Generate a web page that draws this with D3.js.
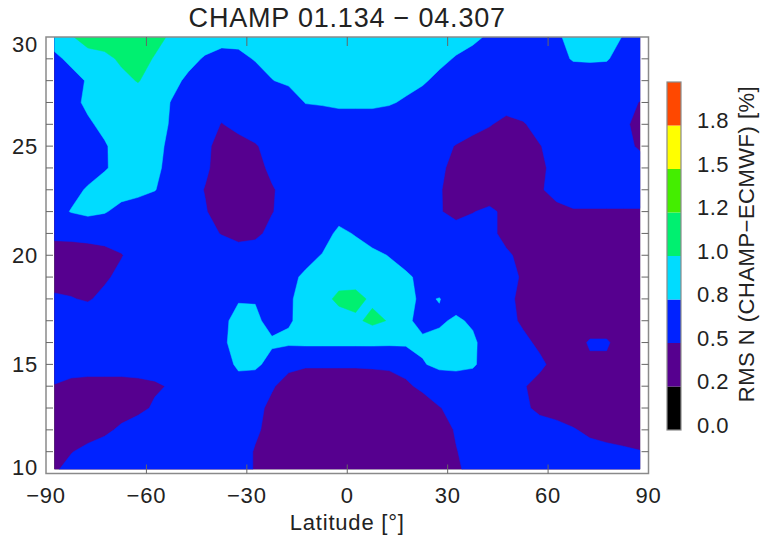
<!DOCTYPE html>
<html>
<head>
<meta charset="utf-8">
<title>CHAMP RMS N</title>
<script src="https://d3js.org/d3.v7.min.js"></script>
<style>
  body { margin: 0; background: #fff; }
  text { font-family: "Liberation Sans", Arial, sans-serif; fill: #222; }
</style>
</head>
<body>
<div id="chart"></div>
<script>
// grid columns (latitude, deg) and rows (altitude, km), top row first
const lats = [-87.5, -82.5, -77.5, -72.5, -67.5, -62.5, -57.5, -52.5, -47.5, -42.5, -37.5, -32.5,
              -27.5, -22.5, -17.5, -12.5, -7.5, -2.5, 2.5, 7.5, 12.5, 17.5, 22.5, 27.5,
              32.5, 37.5, 42.5, 47.5, 52.5, 57.5, 62.5, 67.5, 72.5, 77.5, 82.5, 87.5];
const alts = [30, 29, 28, 27, 26, 25, 24, 23, 22, 21, 20, 19, 18, 17, 16, 15, 14, 13, 12, 11, 10];

// RMS N (CHAMP-ECMWF) [%], one row per altitude
const rms30 = [0.90,0.98,1.10,1.10,1.10,1.10,1.08,0.96,0.90,0.90,0.90,0.90,0.90,0.90,0.90,0.90,0.90,0.90,0.90,0.90,0.90,0.90,0.90,0.90,0.90,0.86,0.76,0.65,0.65,0.65,0.76,0.88,0.90,0.88,0.79,0.70];
const rms29 = [0.75,0.85,0.90,0.95,1.03,1.10,0.98,0.90,0.86,0.78,0.70,0.72,0.82,0.90,0.90,0.90,0.90,0.90,0.90,0.90,0.90,0.90,0.90,0.86,0.78,0.70,0.65,0.65,0.65,0.65,0.72,0.82,0.83,0.82,0.70,0.65];
const rms28 = [0.65,0.72,0.82,0.90,0.95,1.01,0.92,0.86,0.76,0.65,0.62,0.62,0.65,0.79,0.86,0.90,0.90,0.90,0.90,0.90,0.90,0.90,0.83,0.74,0.65,0.65,0.65,0.65,0.65,0.65,0.65,0.65,0.65,0.65,0.65,0.65];
const rms27 = [0.65,0.74,0.84,0.90,0.90,0.90,0.90,0.79,0.70,0.62,0.62,0.62,0.62,0.62,0.62,0.81,0.83,0.87,0.87,0.87,0.83,0.76,0.70,0.62,0.62,0.62,0.62,0.62,0.62,0.62,0.62,0.62,0.62,0.62,0.58,0.49];
const rms26 = [0.65,0.70,0.77,0.85,0.90,0.90,0.88,0.78,0.65,0.60,0.49,0.58,0.62,0.62,0.62,0.62,0.62,0.62,0.62,0.62,0.62,0.62,0.62,0.62,0.62,0.62,0.52,0.42,0.48,0.58,0.62,0.62,0.62,0.62,0.56,0.40];
const rms25 = [0.65,0.68,0.72,0.78,0.88,0.90,0.85,0.76,0.62,0.56,0.40,0.40,0.48,0.58,0.62,0.62,0.62,0.62,0.62,0.62,0.62,0.62,0.62,0.56,0.49,0.38,0.35,0.35,0.40,0.49,0.58,0.62,0.62,0.62,0.56,0.47];
const rms24 = [0.65,0.68,0.72,0.78,0.87,0.90,0.84,0.74,0.62,0.54,0.40,0.35,0.42,0.55,0.62,0.62,0.62,0.62,0.62,0.62,0.62,0.62,0.62,0.55,0.42,0.35,0.35,0.35,0.35,0.46,0.56,0.62,0.62,0.62,0.62,0.60];
const rms23 = [0.65,0.74,0.82,0.90,0.90,0.88,0.81,0.68,0.60,0.49,0.38,0.35,0.40,0.48,0.58,0.62,0.62,0.62,0.62,0.62,0.62,0.62,0.62,0.52,0.40,0.35,0.35,0.35,0.35,0.48,0.56,0.62,0.62,0.62,0.62,0.62];
const rms22 = [0.72,0.81,0.86,0.82,0.72,0.65,0.62,0.62,0.62,0.52,0.38,0.35,0.40,0.49,0.58,0.62,0.62,0.68,0.62,0.62,0.62,0.62,0.62,0.52,0.42,0.49,0.55,0.44,0.38,0.40,0.45,0.48,0.48,0.48,0.48,0.48];
const rms21 = [0.56,0.57,0.58,0.58,0.60,0.62,0.62,0.62,0.62,0.56,0.49,0.42,0.45,0.56,0.65,0.65,0.68,0.86,0.78,0.68,0.62,0.62,0.62,0.62,0.62,0.62,0.55,0.44,0.38,0.38,0.38,0.38,0.38,0.38,0.38,0.38];
const rms20 = [0.38,0.38,0.40,0.44,0.49,0.58,0.62,0.62,0.62,0.62,0.62,0.62,0.62,0.62,0.62,0.72,0.81,0.90,0.92,0.86,0.79,0.70,0.62,0.62,0.62,0.62,0.58,0.53,0.45,0.35,0.35,0.35,0.35,0.35,0.35,0.35];
const rms19 = [0.42,0.42,0.44,0.47,0.55,0.62,0.62,0.62,0.62,0.62,0.62,0.62,0.62,0.62,0.74,0.84,0.90,0.93,0.93,0.92,0.90,0.84,0.74,0.62,0.62,0.62,0.62,0.56,0.48,0.35,0.35,0.35,0.35,0.35,0.35,0.35];
const rms18 = [0.53,0.51,0.48,0.55,0.62,0.62,0.62,0.62,0.62,0.62,0.62,0.78,0.78,0.68,0.77,0.88,0.94,1.04,1.05,0.97,0.90,0.86,0.76,0.81,0.68,0.62,0.60,0.55,0.45,0.35,0.35,0.35,0.35,0.35,0.35,0.35];
const rms17 = [0.62,0.62,0.62,0.62,0.62,0.62,0.62,0.62,0.62,0.62,0.74,0.88,0.86,0.70,0.78,0.86,0.90,0.92,0.97,1.04,0.99,0.85,0.72,0.76,0.84,0.76,0.62,0.58,0.46,0.35,0.35,0.35,0.35,0.35,0.35,0.35];
const rms16 = [0.62,0.62,0.62,0.62,0.62,0.62,0.62,0.62,0.62,0.62,0.77,0.86,0.86,0.84,0.84,0.85,0.85,0.85,0.85,0.85,0.84,0.84,0.85,0.88,0.90,0.85,0.66,0.62,0.56,0.45,0.38,0.38,0.53,0.53,0.38,0.38];
const rms15 = [0.60,0.60,0.60,0.60,0.60,0.60,0.60,0.60,0.60,0.60,0.60,0.88,0.86,0.70,0.55,0.53,0.53,0.53,0.53,0.54,0.56,0.60,0.78,0.86,0.88,0.84,0.66,0.62,0.60,0.55,0.42,0.35,0.45,0.45,0.35,0.35];
const rms14 = [0.49,0.44,0.42,0.42,0.42,0.44,0.47,0.52,0.62,0.62,0.62,0.62,0.62,0.52,0.42,0.35,0.35,0.35,0.35,0.35,0.35,0.45,0.56,0.62,0.62,0.62,0.62,0.62,0.52,0.42,0.35,0.35,0.35,0.35,0.35,0.35];
const rms13 = [0.35,0.36,0.38,0.38,0.40,0.44,0.53,0.60,0.62,0.62,0.62,0.62,0.56,0.45,0.35,0.35,0.35,0.35,0.35,0.35,0.35,0.35,0.35,0.49,0.56,0.62,0.62,0.62,0.55,0.44,0.35,0.35,0.35,0.35,0.35,0.35];
const rms12 = [0.35,0.38,0.40,0.45,0.54,0.62,0.62,0.62,0.62,0.62,0.62,0.62,0.54,0.42,0.35,0.35,0.35,0.35,0.35,0.35,0.35,0.35,0.35,0.40,0.52,0.62,0.62,0.62,0.62,0.62,0.62,0.52,0.44,0.40,0.38,0.35];
const rms11 = [0.42,0.49,0.56,0.62,0.62,0.62,0.62,0.62,0.62,0.62,0.62,0.62,0.48,0.40,0.35,0.35,0.35,0.35,0.35,0.35,0.35,0.35,0.35,0.40,0.49,0.58,0.62,0.62,0.62,0.62,0.62,0.62,0.60,0.57,0.54,0.51];
const rms10 = [0.49,0.58,0.62,0.62,0.62,0.62,0.62,0.62,0.62,0.62,0.62,0.62,0.48,0.42,0.35,0.35,0.35,0.35,0.35,0.35,0.35,0.35,0.35,0.40,0.46,0.56,0.62,0.62,0.62,0.62,0.62,0.62,0.62,0.62,0.62,0.60];
const rmsRows = [rms30, rms29, rms28, rms27, rms26, rms25, rms24, rms23, rms22, rms21, rms20,
                 rms19, rms18, rms17, rms16, rms15, rms14, rms13, rms12, rms11, rms10];

// contour levels and their fill colours
const levels = [0.0, 0.2, 0.5, 0.8, 1.0, 1.2, 1.5, 1.8];
const levelColors = ["#000000", "#56008f", "#0022ff", "#00dcff", "#00f070", "#44ee00", "#ffff00", "#ff4800"];
const levelLabels = ["0.0", "0.2", "0.5", "0.8", "1.0", "1.2", "1.5", "1.8"];
const latTicks = [-90, -60, -30, 0, 30, 60, 90];
const altTicks = [10, 15, 20, 25, 30];
const altMinor = d3.range(10, 31, 1);
const altLowest = 10.2;  // lowest altitude with data

const W = 760, H = 536;
const svg = d3.select("#chart").append("svg")
    .attr("width", W).attr("height", H);

const x = d3.scaleLinear().domain([-90, 90]).range([46, 648.5]);
const y = d3.scaleLinear().domain([10, 30]).range([473.5, 37]);

// grid coordinates -> data coordinates (sample i sits at i + 0.5)
const nx = lats.length, ny = alts.length;
const gx = d3.scaleLinear().domain([0.5, nx - 0.5]).range([lats[0], lats[nx - 1]]);
const gy = d3.scaleLinear().domain([0.5, ny - 0.5]).range([alts[0], alts[ny - 1]]);

const values = [].concat(...rmsRows);
const contours = d3.contours().size([nx, ny]).thresholds(levels)(values);

const proj = d3.geoTransform({
    point: function(px, py) { this.stream.point(x(gx(px)), y(gy(py))); }
});
const path = d3.geoPath(proj);

svg.append("clipPath").attr("id", "clip")
  .append("rect")
    .attr("x", x(lats[0])).attr("y", y(alts[0]))
    .attr("width", x(lats[nx - 1]) - x(lats[0]))
    .attr("height", y(altLowest) - y(alts[0]));

svg.append("g").attr("clip-path", "url(#clip)")
  .selectAll("path")
  .data(contours)
  .join("path")
    .attr("d", path)
    .attr("fill", (d, i) => levelColors[i])
    .attr("stroke", (d, i) => levelColors[i])
    .attr("stroke-width", 0.5);

// frame
svg.append("rect")
    .attr("x", x(-90)).attr("y", y(30))
    .attr("width", x(90) - x(-90)).attr("height", y(10) - y(30))
    .attr("fill", "none").attr("stroke", "#8a8a8a").attr("stroke-width", 1.5);

const ticks = svg.append("g").attr("stroke", "#666").attr("stroke-width", 1);
latTicks.slice(1, -1).forEach(t => {
    ticks.append("line").attr("x1", x(t)).attr("x2", x(t)).attr("y1", y(10)).attr("y2", y(10) - 9);
    ticks.append("line").attr("x1", x(t)).attr("x2", x(t)).attr("y1", y(30)).attr("y2", y(30) + 9);
});
altMinor.slice(1, -1).forEach(t => {
    ticks.append("line").attr("x1", x(-90)).attr("x2", x(-90) + 7).attr("y1", y(t)).attr("y2", y(t));
    ticks.append("line").attr("x1", x(90)).attr("x2", x(90) - 7).attr("y1", y(t)).attr("y2", y(t));
});

// axis labels
svg.append("g").selectAll("text")
  .data(latTicks)
  .join("text")
    .attr("x", d => x(d)).attr("y", 495)
    .attr("text-anchor", "middle").attr("dominant-baseline", "central")
    .attr("font-size", 22).attr("letter-spacing", 0.8)
    .text(d => d < 0 ? "\u2212" + Math.abs(d) : d);

svg.append("g").selectAll("text")
  .data(altTicks)
  .join("text")
    .attr("x", 38).attr("y", d => Math.min(Math.max(y(d), 44), 467))
    .attr("text-anchor", "end").attr("dominant-baseline", "central")
    .attr("font-size", 22).attr("letter-spacing", 0.8)
    .text(d => d);

svg.append("text")
    .attr("x", x(0)).attr("y", 522)
    .attr("text-anchor", "middle").attr("dominant-baseline", "central")
    .attr("font-size", 22).attr("letter-spacing", 0.8)
    .text("Latitude [\u00b0]");

svg.append("text")
    .attr("x", x(0)).attr("y", 18)
    .attr("text-anchor", "middle").attr("dominant-baseline", "central")
    .attr("font-size", 27).attr("letter-spacing", 0.8)
    .text("CHAMP 01.134 \u2212 04.307");

// colour bar
const cb = d3.scaleLinear().domain([0, levels.length]).range([430, 82]);
const bar = svg.append("g");
bar.selectAll("rect")
  .data(levelColors)
  .join("rect")
    .attr("x", 667).attr("width", 14)
    .attr("y", (d, i) => cb(i + 1))
    .attr("height", (d, i) => cb(i) - cb(i + 1))
    .attr("fill", d => d);
bar.append("rect")
    .attr("x", 667).attr("y", cb(levels.length)).attr("width", 14)
    .attr("height", cb(0) - cb(levels.length))
    .attr("fill", "none").attr("stroke", "#8a8a8a").attr("stroke-width", 1.2);
bar.selectAll("text")
  .data(levelLabels)
  .join("text")
    .attr("x", 697).attr("y", (d, i) => cb(i) - 5)
    .attr("dominant-baseline", "central")
    .attr("font-size", 22).attr("letter-spacing", 0.5)
    .text(d => d);

svg.append("text")
    .attr("transform", "translate(746,244) rotate(-90)")
    .attr("text-anchor", "middle").attr("dominant-baseline", "central")
    .attr("font-size", 22).attr("letter-spacing", 0.5)
    .text("RMS N (CHAMP\u2212ECMWF) [%]");
</script>
</body>
</html>
